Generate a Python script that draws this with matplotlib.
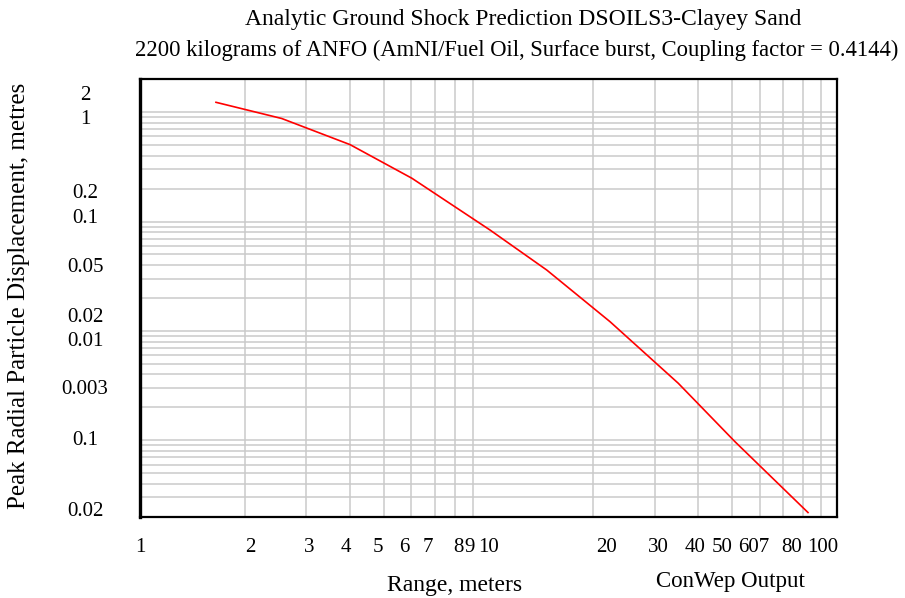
import matplotlib
matplotlib.use("Agg")
import matplotlib.pyplot as plt
from matplotlib.ticker import FixedLocator, NullFormatter

# ---- data ----
range_m = [1.652, 2.551, 4.005, 6.03, 10.10, 14.69, 22.32, 35.04, 50.97, 82.56]
displacement = [0.616, 0.438, 0.2528, 0.1244, 0.04185, 0.01803, 0.006073, 0.00166, 0.000485, 0.0001092]

x_tick_labels = ["1", "2", "3", "4", "5", "6", "7", "8", "9", "10",
                 "20", "30", "40", "50", "607", "80", "100"]
x_tick_label_at = [1.0, 2.068, 3.06, 3.90, 4.83, 5.72, 6.72, 8.19, 8.85, 10.0,
                   21.84, 30.7, 39.1, 46.7, 57.8, 74.1, 91.2]

y_tick_labels = ["2", "1", "0.2", "0.1", "0.05", "0.02", "0.01", "0.003", "0.1", "0.02"]
y_tick_label_at = [0.749, 0.4519, 0.0952, 0.0562, 0.02003, 0.006991, 0.004217,
                   0.001535, 0.0005245, 0.0001176]

x_grid = [2, 3, 4, 5, 6, 7, 8, 9, 10, 20, 30, 40, 50, 60, 70, 80, 90]
y_grid_mult = [1, 1.5, 2, 2.5, 3, 3.5, 4, 4.5, 5]
y_decades = [1e-4, 1e-3, 1e-2, 1e-1]

title1 = "Analytic Ground Shock Prediction DSOILS3-Clayey Sand"
title2 = "2200 kilograms of ANFO (AmNI/Fuel Oil, Surface burst, Coupling factor = 0.4144)"

FONT = "Liberation Serif"
FS = 15

W, H = 905, 598
fig = plt.figure(figsize=(W / 100, H / 100), dpi=100)
L, R, T, B = 140, 837, 79.3, 516.7
ax = fig.add_axes([L / W, 1 - B / H, (R - L) / W, (B - T) / H])

ax.set_xscale("log")
ax.set_yscale("log")
ax.set_xlim(1, 100)
ax.set_ylim(1e-4, 1)

y_grid = [m * d for d in y_decades for m in y_grid_mult if m * d > 1e-4]

ax.xaxis.set_minor_locator(FixedLocator(x_grid))
ax.yaxis.set_minor_locator(FixedLocator(y_grid))
ax.xaxis.set_minor_formatter(NullFormatter())
ax.yaxis.set_minor_formatter(NullFormatter())
ax.grid(True, which="minor", color="#cacaca", linewidth=1.1)
ax.set_axisbelow(True)

ax.set_xticks(x_tick_label_at)
ax.set_xticklabels(x_tick_labels, fontfamily=FONT, fontsize=FS)
ax.set_yticks(y_tick_label_at)
ax.set_yticklabels(y_tick_labels, fontfamily=FONT, fontsize=FS, ha="center")
ax.tick_params(which="both", length=0)
ax.tick_params(axis="x", which="major", pad=15)
ax.tick_params(axis="y", which="major", pad=39.6)
ax.grid(False, which="major")

ax.plot(range_m, displacement, color="red", linewidth=1.2, zorder=3)

for s in ["top", "bottom", "right"]:
    ax.spines[s].set_linewidth(1.6)
ax.spines["left"].set_linewidth(2.4)
for s in ax.spines.values():
    s.set_color("black")

fig.text(523 / W, 1 - 19 / H, title1, ha="center", va="center", fontfamily=FONT, fontsize=17)
fig.text(517 / W, 1 - 50 / H, title2, ha="center", va="center", fontfamily=FONT, fontsize=16.3)
fig.text(455 / W, 1 - 586 / H, "Range, meters", ha="center", va="center", fontfamily=FONT, fontsize=17)
fig.text(730 / W, 1 - 582 / H, "ConWep Output", ha="center", va="center", fontfamily=FONT, fontsize=16.5)
fig.text(19 / W, 1 - 296 / H, "Peak Radial Particle Displacement, metres", rotation=90,
         ha="center", va="center", fontfamily=FONT, fontsize=18)

fig.savefig("out.png", dpi=100)
